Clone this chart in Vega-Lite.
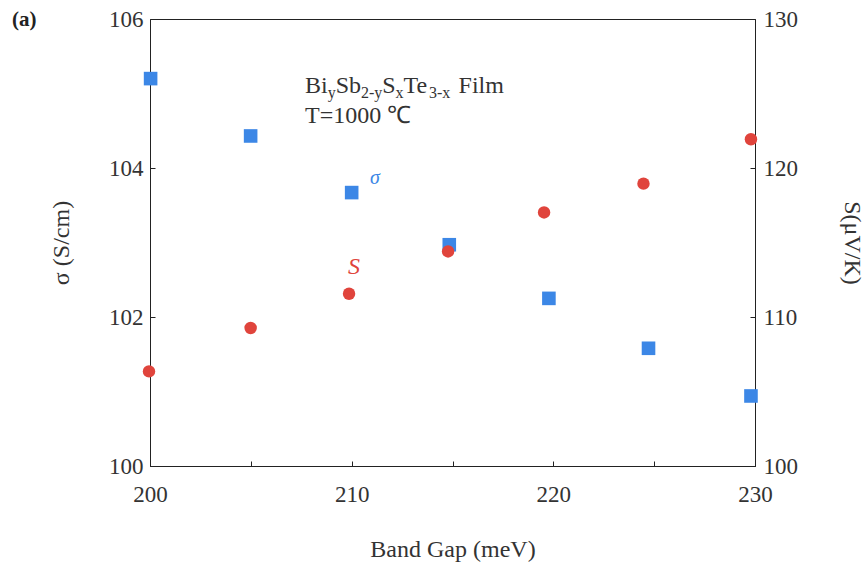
{
  "$schema": "https://vega.github.io/schema/vega-lite/v6.json",
  "autosize": "none",
  "width": 605,
  "height": 447,
  "padding": {"left": 150, "top": 19, "right": 112, "bottom": 103},
  "background": "white",
  "config": {
    "font": "Liberation Serif",
    "view": {"stroke": "#222", "strokeWidth": 1},
    "axis": {
      "grid": false,
      "domainColor": "#222",
      "tickColor": "#222",
      "tickSize": -5,
      "labelFlush": false,
      "titleFont": "Liberation Serif",
      "titleFontSize": 24,
      "titleColor": "#333",
      "titleFontWeight": "normal"
    },
    "text": {"font": "Liberation Serif"}
  },
  "datasets": {
    "sigma": [
      {"gap": 200.03, "sigma": 105.20},
      {"gap": 204.99, "sigma": 104.43},
      {"gap": 210.0, "sigma": 103.67},
      {"gap": 214.84, "sigma": 102.97},
      {"gap": 219.78, "sigma": 102.25},
      {"gap": 224.72, "sigma": 101.58},
      {"gap": 229.8, "sigma": 100.94}
    ],
    "seebeck": [
      {"gap": 199.95, "S": 106.35},
      {"gap": 204.99, "S": 109.26},
      {"gap": 209.87, "S": 111.56},
      {"gap": 214.78, "S": 114.4},
      {"gap": 219.54, "S": 117.02},
      {"gap": 224.47, "S": 118.95},
      {"gap": 229.8, "S": 121.93}
    ],
    "one": [{"k": 1}]
  },
  "layer": [
    {
      "layer": [
        {
          "data": {"name": "sigma"},
          "mark": {"type": "square", "size": 185, "filled": true, "color": "#3c87e6", "opacity": 1},
          "encoding": {
            "x": {
              "field": "gap", "type": "quantitative",
              "scale": {"domain": [200, 230], "nice": false, "zero": false},
              "axis": {
                "title": "Band Gap (meV)",
                "values": [200, 205, 210, 215, 220, 225, 230],
                "format": "d",
                "labelExpr": "datum.value % 10 === 0 ? datum.label : ''",
                "labelFlush": false,
                "labelFont": "Liberation Serif",
                "labelFontSize": 23,
                "labelColor": "#333",
                "labelPadding": 22,
                "titlePadding": 31
              }
            },
            "y": {
              "field": "sigma", "type": "quantitative",
              "scale": {"domain": [100, 106], "nice": false, "zero": false},
              "axis": {
                "title": "σ (S/cm)",
                "values": [100, 102, 104, 106],
                "format": "d",
                "labelFlush": false,
                "labelFont": "Liberation Serif",
                "labelFontSize": 23,
                "labelColor": "#333",
                "labelPadding": 12,
                "titlePadding": 35
              }
            }
          }
        },
        {
          "data": {"name": "one"},
          "mark": {"type": "text", "font": "Liberation Serif", "fontSize": 21, "fontWeight": "bold", "color": "#222", "align": "left", "baseline": "alphabetic"},
          "encoding": {"x": {"datum": 193.16}, "y": {"datum": 105.9}, "text": {"value": "(a)"}}
        },
        {
          "data": {"name": "one"},
          "mark": {"type": "text", "font": "Liberation Serif", "fontSize": 20, "fontStyle": "italic", "color": "#3c87e6", "align": "center", "baseline": "middle"},
          "encoding": {"x": {"datum": 211.16}, "y": {"datum": 103.87}, "text": {"value": "σ"}}
        },
        {
          "data": {"name": "one"},
          "mark": {"type": "text", "font": "Liberation Serif", "fontSize": 24, "fontStyle": "italic", "color": "#e0443c", "align": "center", "baseline": "middle"},
          "encoding": {"x": {"datum": 210.12}, "y": {"datum": 102.675}, "text": {"value": "S"}}
        },
        {
          "data": {"name": "one"},
          "mark": {"type": "text", "font": "Liberation Serif", "fontSize": 24, "color": "#333", "align": "left", "baseline": "alphabetic"},
          "encoding": {"x": {"datum": 207.686}, "y": {"datum": 105.007}, "text": {"value": "Bi"}}
        },
        {
          "data": {"name": "one"},
          "mark": {"type": "text", "font": "Liberation Serif", "fontSize": 16, "color": "#333", "align": "left", "baseline": "alphabetic"},
          "encoding": {"x": {"datum": 208.811}, "y": {"datum": 104.94}, "text": {"value": "y"}}
        },
        {
          "data": {"name": "one"},
          "mark": {"type": "text", "font": "Liberation Serif", "fontSize": 24, "color": "#333", "align": "left", "baseline": "alphabetic"},
          "encoding": {"x": {"datum": 209.208}, "y": {"datum": 105.007}, "text": {"value": "Sb"}}
        },
        {
          "data": {"name": "one"},
          "mark": {"type": "text", "font": "Liberation Serif", "fontSize": 16, "color": "#333", "align": "left", "baseline": "alphabetic"},
          "encoding": {"x": {"datum": 210.463}, "y": {"datum": 104.94}, "text": {"value": "2-y"}}
        },
        {
          "data": {"name": "one"},
          "mark": {"type": "text", "font": "Liberation Serif", "fontSize": 24, "color": "#333", "align": "left", "baseline": "alphabetic"},
          "encoding": {"x": {"datum": 211.519}, "y": {"datum": 105.007}, "text": {"value": "S"}}
        },
        {
          "data": {"name": "one"},
          "mark": {"type": "text", "font": "Liberation Serif", "fontSize": 16, "color": "#333", "align": "left", "baseline": "alphabetic"},
          "encoding": {"x": {"datum": 212.179}, "y": {"datum": 104.94}, "text": {"value": "x"}}
        },
        {
          "data": {"name": "one"},
          "mark": {"type": "text", "font": "Liberation Serif", "fontSize": 24, "color": "#333", "align": "left", "baseline": "alphabetic"},
          "encoding": {"x": {"datum": 212.575}, "y": {"datum": 105.007}, "text": {"value": "Te"}}
        },
        {
          "data": {"name": "one"},
          "mark": {"type": "text", "font": "Liberation Serif", "fontSize": 16, "color": "#333", "align": "left", "baseline": "alphabetic"},
          "encoding": {"x": {"datum": 213.83}, "y": {"datum": 104.94}, "text": {"value": "3-x"}}
        },
        {
          "data": {"name": "one"},
          "mark": {"type": "text", "font": "Liberation Serif", "fontSize": 24, "color": "#333", "align": "left", "baseline": "alphabetic"},
          "encoding": {"x": {"datum": 215.3}, "y": {"datum": 105.007}, "text": {"value": "Film"}}
        },
        {
          "data": {"name": "one"},
          "mark": {"type": "text", "font": "Liberation Serif", "fontSize": 24, "color": "#333", "align": "left", "baseline": "alphabetic"},
          "encoding": {"x": {"datum": 207.686}, "y": {"datum": 104.604}, "text": {"value": "T=1000 ℃"}}
        }
      ]
    },
    {
      "data": {"name": "seebeck"},
      "mark": {"type": "circle", "size": 155, "color": "#e0443c", "opacity": 1},
      "encoding": {
        "x": {"field": "gap", "type": "quantitative"},
        "y": {
          "field": "S", "type": "quantitative",
          "scale": {"domain": [100, 130], "nice": false, "zero": false},
          "axis": {
            "orient": "right",
            "title": "S(μV/K)",
            "values": [100, 110, 120, 130],
            "format": "d",
            "labelFlush": false,
            "labelFont": "Liberation Serif",
            "labelFontSize": 23,
            "labelColor": "#333",
            "labelPadding": 13,
            "titlePadding": 42
          }
        }
      }
    }
  ],
  "resolve": {"scale": {"y": "independent"}}
}
